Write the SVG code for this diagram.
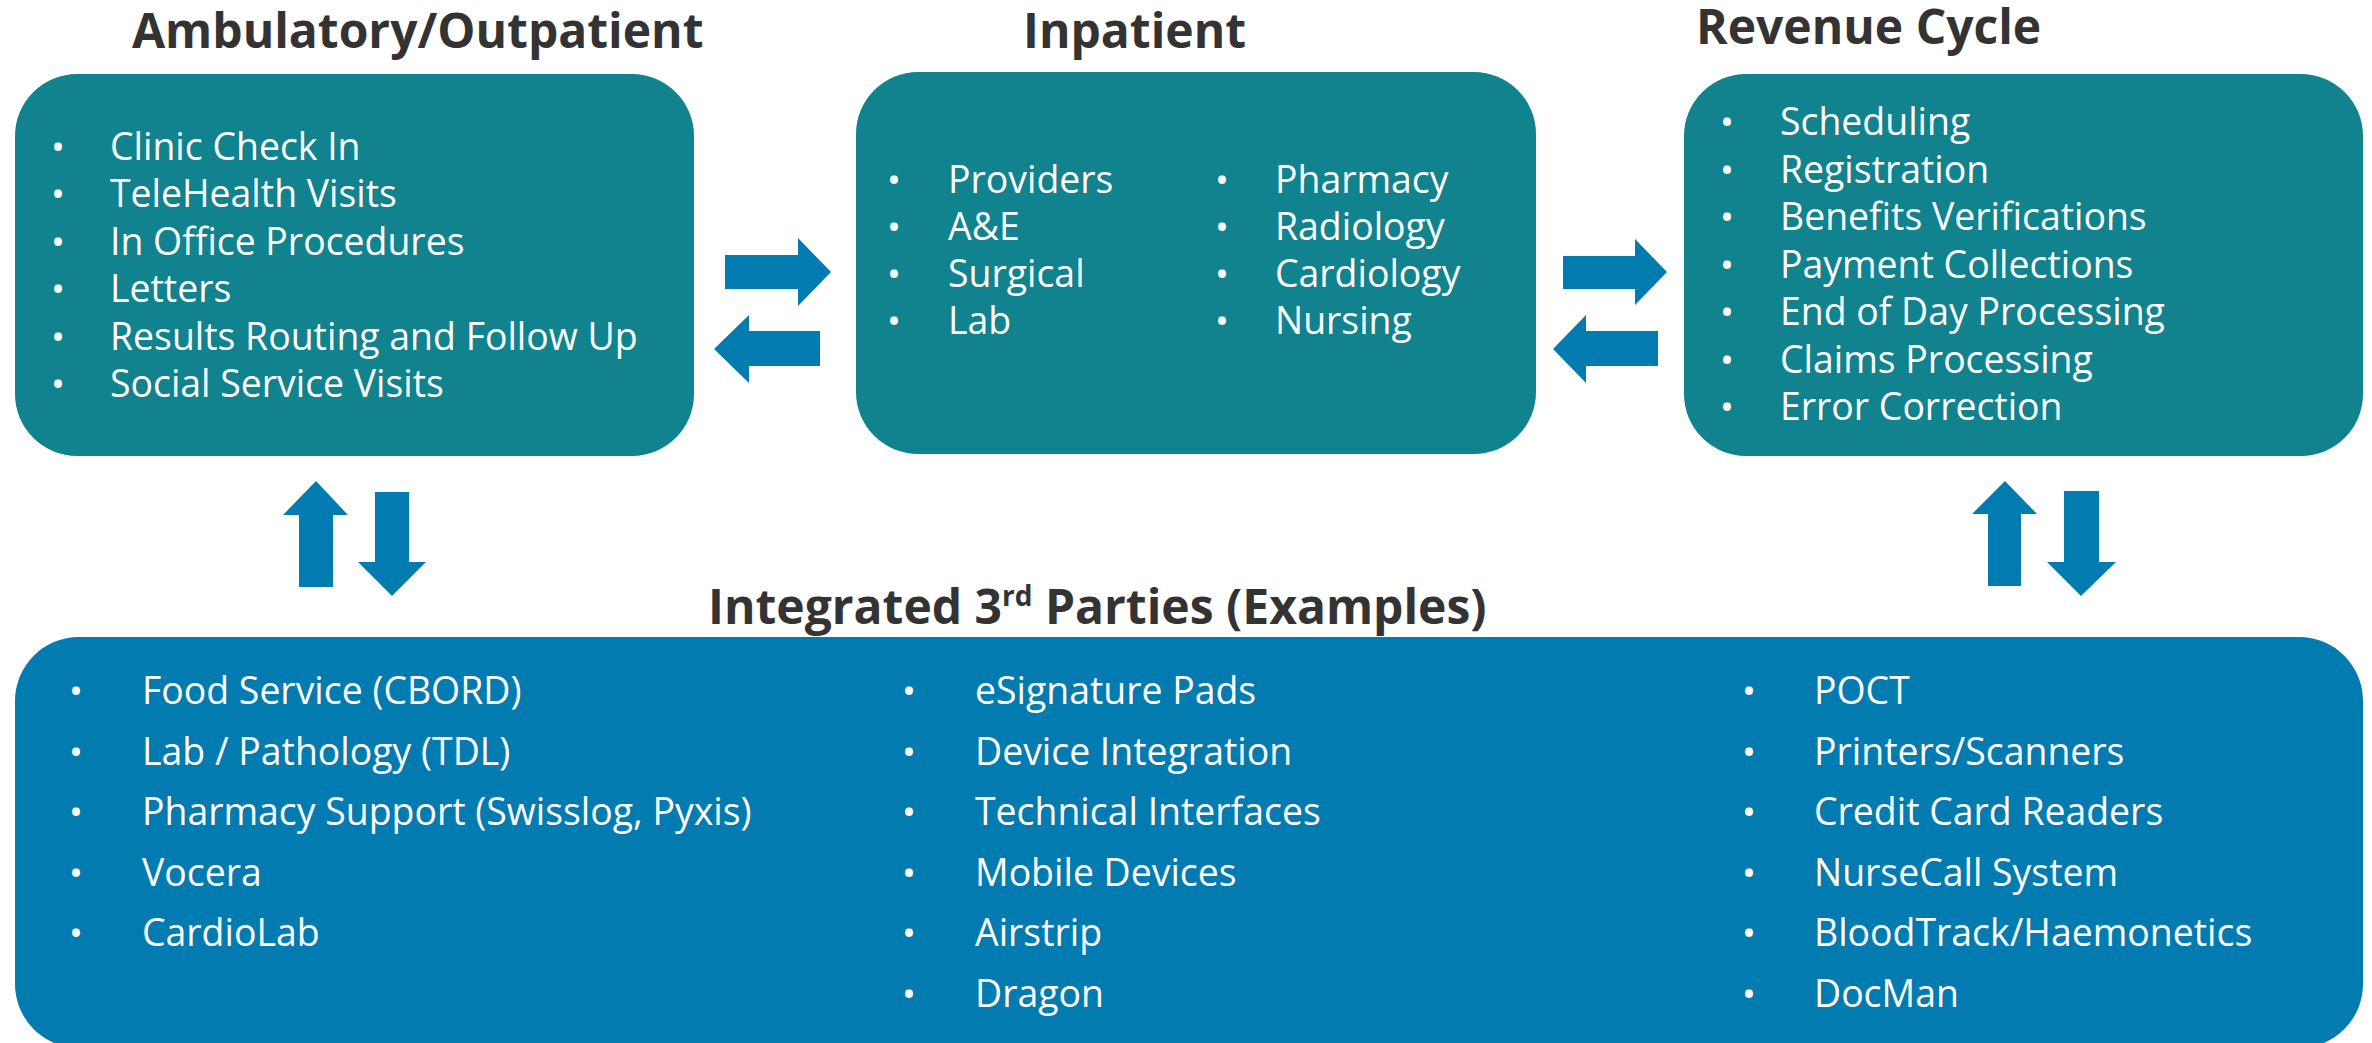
<svg xmlns="http://www.w3.org/2000/svg" width="2372" height="1043" viewBox="0 0 2372 1043">
  <style>
    .title { font-family: "Open Sans", "Liberation Sans", sans-serif; font-weight: 700; font-size: 48px; fill: #333333; }
    .item { font-family: "Open Sans", "Liberation Sans", sans-serif; font-size: 37.4px; fill: #ffffff; }
    .bul { font-family: "Open Sans", "Liberation Sans", sans-serif; font-size: 37px; fill: #ffffff; text-anchor: middle; }
    .teal { fill: #10838E; }
    .blue { fill: #027BB0; }
    .arrow { fill: #027BB0; }
  </style>
  <rect width="2372" height="1043" fill="#ffffff"/>

  <g id="ambulatory">
    <text class="title" x="132" y="48">Ambulatory/Outpatient</text>
    <rect class="teal" x="15" y="74" width="679" height="382" rx="62" ry="62"/>
    <g class="bullets">
      <text class="bul" x="58" y="160">•</text>
      <text class="bul" x="58" y="207">•</text>
      <text class="bul" x="58" y="255">•</text>
      <text class="bul" x="58" y="302">•</text>
      <text class="bul" x="58" y="350">•</text>
      <text class="bul" x="58" y="397">•</text>
    </g>
    <text class="item" x="110" y="160">Clinic Check In</text>
    <text class="item" x="110" y="207">TeleHealth Visits</text>
    <text class="item" x="110" y="255">In Office Procedures</text>
    <text class="item" x="110" y="302">Letters</text>
    <text class="item" x="110" y="350">Results Routing and Follow Up</text>
    <text class="item" x="110" y="397">Social Service Visits</text>
  </g>

  <g id="inpatient">
    <text class="title" x="1023" y="48">Inpatient</text>
    <rect class="teal" x="856" y="72" width="680" height="382" rx="62" ry="62"/>
    <text class="bul" x="894" y="193">•</text>
    <text class="bul" x="894" y="240">•</text>
    <text class="bul" x="894" y="287">•</text>
    <text class="bul" x="894" y="334">•</text>
    <text class="item" x="948" y="193">Providers</text>
    <text class="item" x="948" y="240">A&amp;E</text>
    <text class="item" x="948" y="287">Surgical</text>
    <text class="item" x="948" y="334">Lab</text>
    <text class="bul" x="1222" y="193">•</text>
    <text class="bul" x="1222" y="240">•</text>
    <text class="bul" x="1222" y="287">•</text>
    <text class="bul" x="1222" y="334">•</text>
    <text class="item" x="1275" y="193">Pharmacy</text>
    <text class="item" x="1275" y="240">Radiology</text>
    <text class="item" x="1275" y="287">Cardiology</text>
    <text class="item" x="1275" y="334">Nursing</text>
  </g>

  <g id="revenue-cycle">
    <text class="title" x="1696" y="44">Revenue Cycle</text>
    <rect class="teal" x="1684" y="74" width="679" height="382" rx="62" ry="62"/>
    <text class="bul" x="1727" y="135">•</text>
    <text class="bul" x="1727" y="182.5">•</text>
    <text class="bul" x="1727" y="230">•</text>
    <text class="bul" x="1727" y="277.5">•</text>
    <text class="bul" x="1727" y="325">•</text>
    <text class="bul" x="1727" y="372.5">•</text>
    <text class="bul" x="1727" y="420">•</text>
    <text class="item" x="1780" y="135">Scheduling</text>
    <text class="item" x="1780" y="182.5">Registration</text>
    <text class="item" x="1780" y="230">Benefits Verifications</text>
    <text class="item" x="1780" y="277.5">Payment Collections</text>
    <text class="item" x="1780" y="325">End of Day Processing</text>
    <text class="item" x="1780" y="372.5">Claims Processing</text>
    <text class="item" x="1780" y="420">Error Correction</text>
  </g>

  <g id="third-parties">
    <text class="title" x="708" y="624">Integrated 3<tspan font-size="28" dy="-18">rd</tspan><tspan dy="18"> Parties (Examples)</tspan></text>
    <rect class="blue" x="15" y="637" width="2348" height="411" rx="64" ry="64"/>
    <text class="bul" x="76" y="704">•</text>
    <text class="bul" x="76" y="764.5">•</text>
    <text class="bul" x="76" y="825">•</text>
    <text class="bul" x="76" y="885.5">•</text>
    <text class="bul" x="76" y="946">•</text>
    <text class="item" x="142" y="704">Food Service (CBORD)</text>
    <text class="item" x="142" y="764.5">Lab / Pathology (TDL)</text>
    <text class="item" x="142" y="825">Pharmacy Support (Swisslog, Pyxis)</text>
    <text class="item" x="142" y="885.5">Vocera</text>
    <text class="item" x="142" y="946">CardioLab</text>
    <text class="bul" x="909" y="704">•</text>
    <text class="bul" x="909" y="764.5">•</text>
    <text class="bul" x="909" y="825">•</text>
    <text class="bul" x="909" y="885.5">•</text>
    <text class="bul" x="909" y="946">•</text>
    <text class="bul" x="909" y="1006.5">•</text>
    <text class="item" x="975" y="704">eSignature Pads</text>
    <text class="item" x="975" y="764.5">Device Integration</text>
    <text class="item" x="975" y="825">Technical Interfaces</text>
    <text class="item" x="975" y="885.5">Mobile Devices</text>
    <text class="item" x="975" y="946">Airstrip</text>
    <text class="item" x="975" y="1006.5">Dragon</text>
    <text class="bul" x="1749" y="704">•</text>
    <text class="bul" x="1749" y="764.5">•</text>
    <text class="bul" x="1749" y="825">•</text>
    <text class="bul" x="1749" y="885.5">•</text>
    <text class="bul" x="1749" y="946">•</text>
    <text class="bul" x="1749" y="1006.5">•</text>
    <text class="item" x="1814" y="704">POCT</text>
    <text class="item" x="1814" y="764.5">Printers/Scanners</text>
    <text class="item" x="1814" y="825">Credit Card Readers</text>
    <text class="item" x="1814" y="885.5">NurseCall System</text>
    <text class="item" x="1814" y="946">BloodTrack/Haemonetics</text>
    <text class="item" x="1814" y="1006.5">DocMan</text>
  </g>

  <g id="connectors">
    <polygon class="arrow" points="725,255 798,255 798,238 831,272 798,306 798,289 725,289"/>
    <polygon class="arrow" points="820,331 749,331 749,315 714,349 749,383 749,366 820,366"/>
    <polygon class="arrow" points="1563,256 1635,256 1635,239 1667,272 1635,305 1635,289 1563,289"/>
    <polygon class="arrow" points="1658,331 1586,331 1586,315 1553,349 1586,383 1586,366 1658,366"/>
    <polygon class="arrow" points="299,587 299,515 283,515 316,481 348,515 333,515 333,587"/>
    <polygon class="arrow" points="375,492 409,492 409,562 426,562 392,596 358,562 375,562"/>
    <polygon class="arrow" points="1988,586 1988,514 1972,514 2005,481 2037,514 2021,514 2021,586"/>
    <polygon class="arrow" points="2064,491 2099,491 2099,562 2116,562 2081,596 2047,562 2064,562"/>
  </g>
</svg>
